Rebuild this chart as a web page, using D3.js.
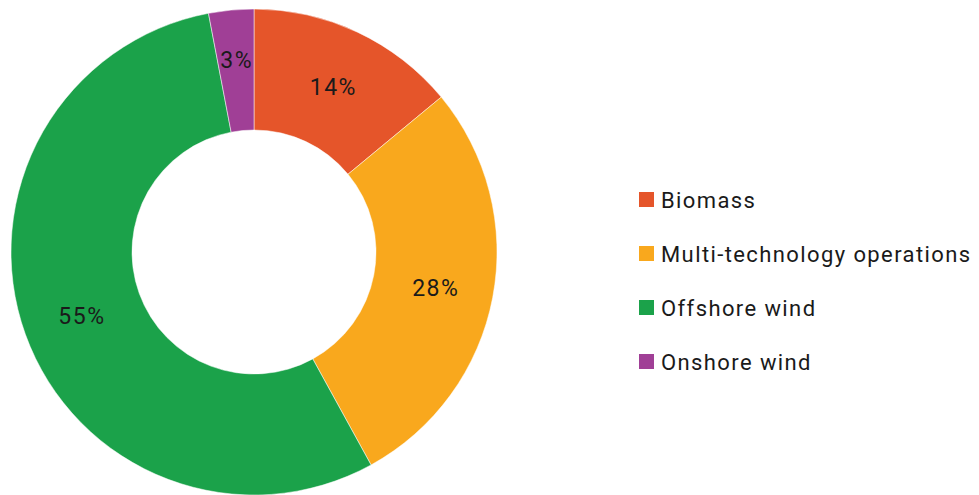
<!DOCTYPE html>
<html><head><meta charset="utf-8">
<script src="https://cdn.jsdelivr.net/npm/d3@7"></script>
<style>body{margin:0;background:#fff}svg{display:block}</style>
</head><body>
<script>
const categories = ["Biomass", "Multi-technology operations", "Offshore wind", "Onshore wind"];
const values = [14, 28, 55, 3];
const colors = ["#E5552A", "#F9A81D", "#1BA24A", "#A03F96"];

const W = 979, H = 495;
const svg = d3.select("body").append("svg").attr("width", W).attr("height", H);
const font = "Roboto, 'DejaVu Sans', sans-serif";
const cx = 254, cy = 252, rOuter = 243, rInner = 122;

const pie = d3.pie().sort(null).value(d => d)(values);
const arc = d3.arc().innerRadius(rInner).outerRadius(rOuter);
const g = svg.append("g").attr("transform", `translate(${cx},${cy})`);
g.selectAll("path").data(pie).join("path")
  .attr("d", arc).attr("fill", (d, i) => colors[i])
  .attr("stroke", "#fff").attr("stroke-width", 0.5);
const labelArc = d => {
  const r = d.value < 5 ? 194 : 184;
  return d3.arc().innerRadius(r).outerRadius(r).centroid(d);
};
g.selectAll("text").data(pie).join("text")
  .attr("transform", d => { const c = labelArc(d); return `translate(${c[0] + 1},${c[1] + 1})`; })
  .attr("text-anchor", "middle").attr("dy", "0.36em")
  .attr("font-family", font).attr("font-size", 23).attr("letter-spacing", 1.5).attr("fill", "#1a1a1a")
  .text(d => d.value + "%");

const leg = svg.append("g");
categories.forEach((c, i) => {
  const y = 200 + i * 54;
  leg.append("rect").attr("x", 639).attr("y", y - 8).attr("width", 15).attr("height", 15).attr("fill", colors[i]);
  leg.append("text").attr("x", 661).attr("y", y).attr("dy", "0.36em")
    .attr("font-family", font).attr("font-size", 22).attr("letter-spacing", 1.4).attr("fill", "#1a1a1a").text(c);
});
</script>
</body></html>
